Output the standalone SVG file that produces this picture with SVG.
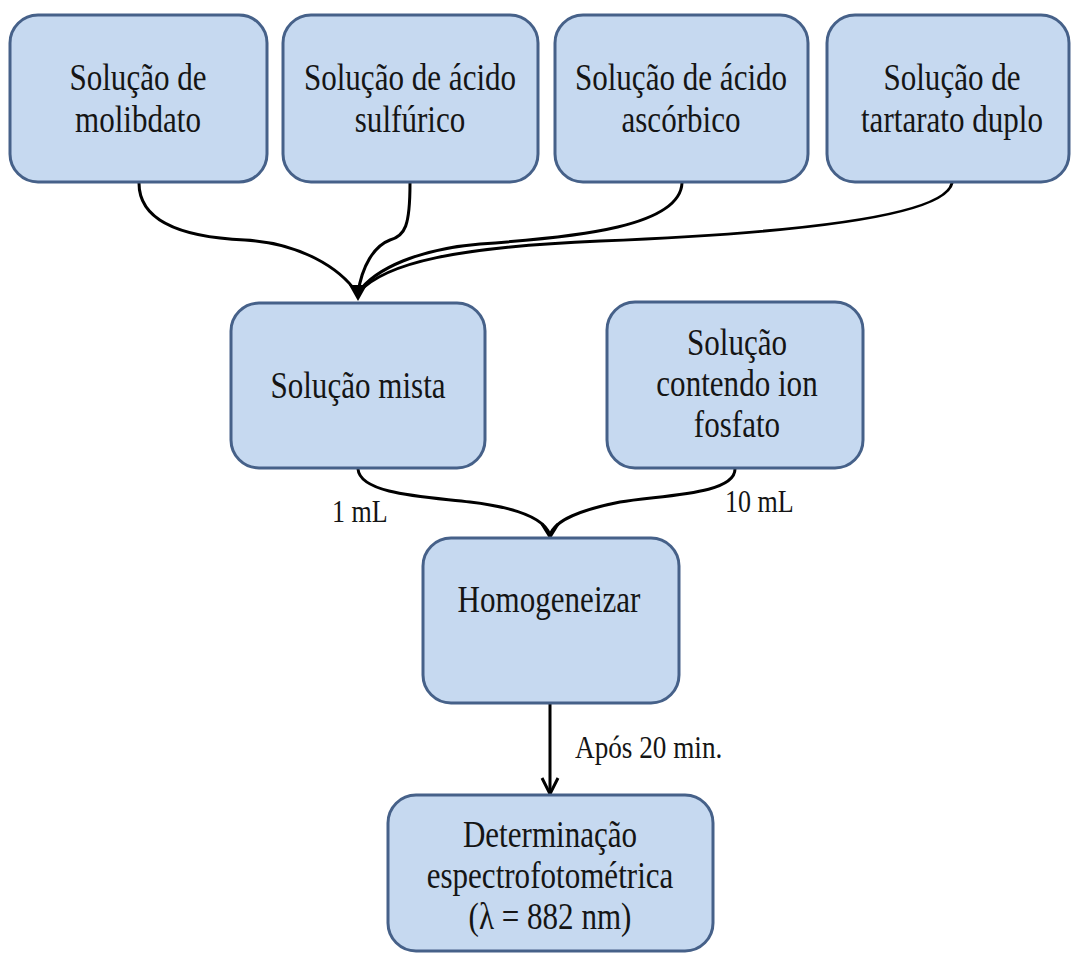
<svg xmlns="http://www.w3.org/2000/svg" width="1071" height="954" viewBox="0 0 1071 954">
<style>
.box{fill:#c6d9f0;stroke:#466189;stroke-width:3}
.t{font-family:"Liberation Serif","Times New Roman",serif;font-size:37px;text-anchor:middle;fill:#151515}
.l{font-family:"Liberation Serif","Times New Roman",serif;font-size:31px;fill:#151515}
.c{fill:none;stroke:#000;stroke-width:3;stroke-linecap:round}
.v{fill:none;stroke:#000;stroke-width:3;stroke-linejoin:miter}
</style>
<rect width="1071" height="954" fill="#fff"/>
<g id="connectors">
<path class="c" d="M139,183 C139,228 200,238 245,240 C300,243 340,268 357,293"/>
<path class="c" d="M410,183 C410,226 405,236 390,240 C374,246 362,266 358,293"/>
<path class="c" d="M682,183 C680,226 580,237 480,244 C420,249 375,268 358,293"/>
<path class="c" d="M952,183 C945,216 800,233 600,241 C460,247 385,262 358,293"/>
<polygon points="349,285 367,285 358,301" fill="#000"/>
<path class="c" d="M358,469 C360,495 430,497 470,502 C520,508 545,520 550,535"/>
<path class="c" d="M735,469 C735,495 660,495 620,502 C580,510 555,520 550,535"/>
<polyline class="v" points="542,524 550,537 558,524"/>
<path class="c" d="M550,704 L550,793"/>
<polyline class="v" points="542,778 550,794 558,778"/>
<text class="l" transform="translate(332,522) scale(0.84,1)">1 mL</text>
<text class="l" transform="translate(725,512) scale(0.84,1)">10 mL</text>
<text class="l" transform="translate(575,758) scale(0.85,1)" style="font-size:32px">Após 20 min.</text>
</g>
<g id="n1">
<rect class="box" x="10" y="15" width="257" height="167" rx="28"/>
<text class="t" transform="translate(138,90) scale(0.84,1)">Solução de</text>
<text class="t" transform="translate(138,132) scale(0.84,1)">molibdato</text>
</g>
<g id="n2">
<rect class="box" x="283" y="15" width="255" height="167" rx="28"/>
<text class="t" transform="translate(410,90) scale(0.84,1)">Solução de ácido</text>
<text class="t" transform="translate(410,132) scale(0.84,1)">sulfúrico</text>
</g>
<g id="n3">
<rect class="box" x="555" y="15" width="253" height="167" rx="28"/>
<text class="t" transform="translate(681,90) scale(0.84,1)">Solução de ácido</text>
<text class="t" transform="translate(681,132) scale(0.84,1)">ascórbico</text>
</g>
<g id="n4">
<rect class="box" x="827" y="15" width="242" height="167" rx="28"/>
<text class="t" transform="translate(952,90) scale(0.84,1)">Solução de</text>
<text class="t" transform="translate(952,132) scale(0.84,1)">tartarato duplo</text>
</g>
<g id="n5">
<rect class="box" x="231" y="303" width="254" height="165" rx="28"/>
<text class="t" transform="translate(358,398) scale(0.84,1)">Solução mista</text>
</g>
<g id="n6">
<rect class="box" x="607" y="302" width="256" height="166" rx="28"/>
<text class="t" transform="translate(737,355) scale(0.84,1)">Solução</text>
<text class="t" transform="translate(737,396) scale(0.84,1)">contendo ion</text>
<text class="t" transform="translate(737,437) scale(0.84,1)">fosfato</text>
</g>
<g id="n7">
<rect class="box" x="423" y="538" width="256" height="165" rx="28"/>
<text class="t" transform="translate(549,612) scale(0.84,1)">Homogeneizar</text>
</g>
<g id="n8">
<rect class="box" x="388" y="795" width="325" height="156" rx="28"/>
<text class="t" transform="translate(550,847) scale(0.84,1)">Determinação</text>
<text class="t" transform="translate(550,888) scale(0.84,1)">espectrofotométrica</text>
<text class="t" transform="translate(550,929) scale(0.84,1)">(λ = 882 nm)</text>
</g>
</svg>
